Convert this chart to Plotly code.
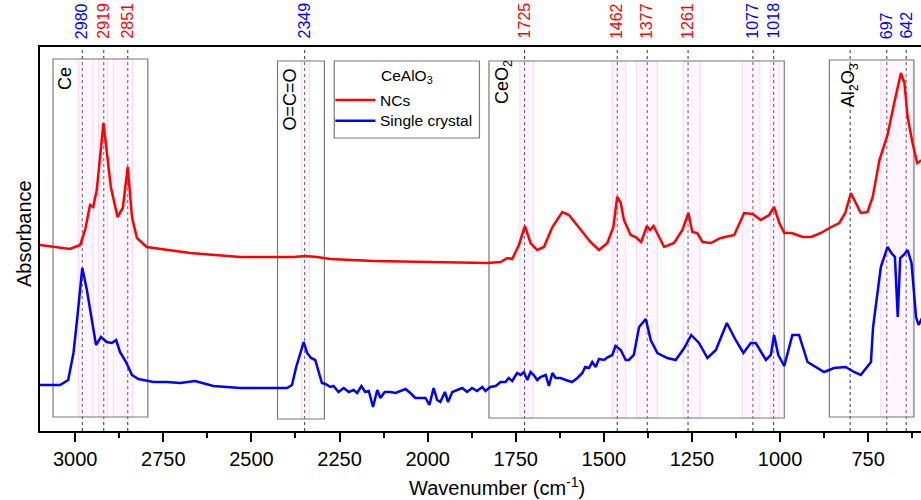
import plotly.graph_objects as go

# ---------------- data ----------------
nc_wn = [3100, 3060, 3015, 2986, 2972, 2958, 2949, 2939, 2920, 2911, 2899, 2880, 2865, 2851, 2839, 2825,
         2797, 2674, 2532, 2380, 2347, 2314, 2276, 2153, 1992, 1831, 1793, 1774, 1760, 1741, 1724, 1708,
         1689, 1670, 1646, 1618, 1599, 1571, 1538, 1514, 1490, 1473, 1462, 1452, 1443, 1424, 1410, 1394,
         1378, 1369, 1359, 1346, 1329, 1301, 1277, 1260, 1249, 1235, 1220, 1197, 1168, 1130, 1102, 1078,
         1055, 1031, 1017, 1002, 988, 967, 936, 912, 884, 860, 832, 815, 799, 785, 771, 752, 737, 718,
         695, 676, 666, 657, 647, 638, 624, 611, 597]
nc_abs = [1.86, 1.84, 1.82, 1.86, 2.01, 2.26, 2.24, 2.41, 3.08, 2.81, 2.44, 2.14, 2.23, 2.64, 2.14, 1.93,
          1.84, 1.78, 1.74, 1.74, 1.75, 1.74, 1.72, 1.70, 1.69, 1.68, 1.69, 1.73, 1.72, 1.86, 2.05, 1.88,
          1.81, 1.84, 2.04, 2.19, 2.16, 2.04, 1.89, 1.81, 1.88, 2.04, 2.34, 2.28, 2.11, 1.96, 1.94, 1.89,
          2.05, 2.01, 2.05, 1.96, 1.84, 1.88, 2.01, 2.18, 1.99, 1.98, 1.89, 1.88, 1.93, 1.96, 2.18, 2.17,
          2.11, 2.16, 2.24, 2.08, 1.98, 1.98, 1.94, 1.94, 1.98, 2.03, 2.08, 2.18, 2.38, 2.28, 2.18, 2.19, 2.34, 2.71,
          2.96, 3.28, 3.44, 3.58, 3.48, 3.14, 2.88, 2.68, 2.71]

sc_wn = [3100, 3043, 3020, 3005, 2994, 2980, 2967, 2953, 2941, 2927, 2911, 2896, 2884, 2873, 2856, 2839,
         2821, 2778, 2740, 2702, 2660, 2608, 2532, 2456, 2399, 2385, 2373, 2361, 2352, 2342, 2331, 2319,
         2300, 2290, 2276, 2267, 2253, 2238, 2224, 2210, 2200, 2188, 2177, 2167, 2155, 2143, 2134, 2122,
         2106, 2091, 2077, 2063, 2049, 2035, 2020, 2006, 1995, 1983, 1973, 1964, 1951, 1942, 1930, 1916,
         1902, 1888, 1874, 1860, 1845, 1836, 1822, 1807, 1793, 1779, 1770, 1760, 1746, 1736, 1727, 1717,
         1708, 1699, 1689, 1680, 1665, 1656, 1646, 1637, 1623, 1608, 1590, 1575, 1561, 1553, 1542, 1533,
         1523, 1514, 1500, 1488, 1476,
         1467, 1452, 1438, 1429, 1415, 1400, 1381, 1367, 1348, 1320, 1296, 1272, 1252, 1230, 1206,
         1182, 1151, 1126, 1104, 1083, 1069, 1040, 1026, 1017, 1005, 988, 965, 946, 922, 894, 875, 847,
         814, 790, 771, 742, 736, 714, 695, 684, 674, 666, 659, 649, 638, 627, 614, 607, 597]
sc_abs = [0.46, 0.46, 0.51, 0.78, 1.14, 1.63, 1.41, 1.11, 0.86, 0.94, 0.89, 0.88, 0.91, 0.79, 0.69, 0.56,
          0.52, 0.49, 0.49, 0.48, 0.50, 0.45, 0.43, 0.43, 0.43, 0.46, 0.64, 0.78, 0.89, 0.78, 0.73, 0.71,
          0.48, 0.47, 0.44, 0.45, 0.39, 0.43, 0.39, 0.41, 0.38, 0.45, 0.39, 0.40, 0.24, 0.41, 0.33, 0.39,
          0.39, 0.38, 0.40, 0.42, 0.38, 0.33, 0.33, 0.33, 0.26, 0.43, 0.31, 0.29, 0.39, 0.29, 0.39, 0.41,
          0.43, 0.39, 0.43, 0.40, 0.44, 0.40, 0.44, 0.45, 0.49, 0.49, 0.53, 0.50, 0.58, 0.56, 0.59, 0.51,
          0.59, 0.56, 0.51, 0.54, 0.56, 0.45, 0.58, 0.53, 0.53, 0.51, 0.49, 0.53, 0.58, 0.64, 0.63, 0.69,
          0.64, 0.72, 0.71, 0.74, 0.76,
          0.85, 0.81, 0.71, 0.71, 0.76, 1.04, 1.12, 0.91, 0.78, 0.73, 0.71, 0.83, 0.96, 0.88, 0.73,
          0.81, 1.08, 0.91, 0.78, 0.88, 0.88, 0.71, 0.76, 0.96, 0.76, 0.65, 0.96, 0.96, 0.69, 0.63, 0.59, 0.63,
          0.64, 0.59, 0.56, 0.69, 1.04, 1.64, 1.84, 1.78, 1.74, 1.14, 1.73, 1.76, 1.81, 1.68, 1.14, 1.06, 1.13]

# peak markers and label colours
peak_wn = [2980, 2919, 2851, 2349, 1725, 1462, 1377, 1261, 1077, 1018, 697, 642]
peak_color = ["blue", "red", "red", "blue", "red", "red", "red", "red", "blue", "blue", "blue", "blue"]
extra_line_wn = [801]

# assignment boxes
box_labels = ["Ce", "O=C=O", "CeO<sub>2</sub>", "Al<sub>2</sub>O<sub>3</sub>"]
box_left = [3063, 2426, 1826, 860]
box_right = [2794, 2293, 988, 620]
box_top = [3.72, 3.70, 3.70, 3.71]
box_bottom = [0.14, 0.12, 0.13, 0.14]
box_label_x = [3029, 2392, 1786, 802]
box_label_y = [3.52, 3.31, 3.49, 3.455]

# shaded bands (hi, lo) and the box they belong to
band_hi = [2991, 2934, 2892, 2358, 1738, 1476, 1407, 1275, 1107, 1028, 714]
band_lo = [2949, 2908, 2837, 2335, 1700, 1438, 1348, 1227, 1057, 1002, 622]
band_box = [0, 0, 0, 1, 2, 2, 2, 2, 2, 2, 3]

x_ticks = [3000, 2750, 2500, 2250, 2000, 1750, 1500, 1250, 1000, 750]
x_minor = [2875, 2625, 2375, 2125, 1875, 1625, 1375, 1125, 875, 625]

FONT = "Arial, 'Liberation Sans', sans-serif"

fig = go.Figure()
fig.add_trace(go.Scatter(x=nc_wn, y=nc_abs, mode="lines", name="NCs",
                         line=dict(color="#ff0000", width=2.5), showlegend=False))
fig.add_trace(go.Scatter(x=sc_wn, y=sc_abs, mode="lines", name="Single crystal",
                         line=dict(color="#0000ff", width=2.5), showlegend=False))

shapes = []
annotations = []

for hi, lo, b in zip(band_hi, band_lo, band_box):
    shapes.append(dict(type="rect", xref="x", yref="y", x0=hi, x1=lo,
                       y0=box_bottom[b], y1=box_top[b],
                       fillcolor="rgba(255,215,250,0.25)",
                       line=dict(color="rgba(245,180,240,0.5)", width=1), layer="below"))

for l, r, t, bt in zip(box_left, box_right, box_top, box_bottom):
    shapes.append(dict(type="rect", xref="x", yref="y", x0=l, x1=r, y0=bt, y1=t,
                       line=dict(color="#7a7a7a", width=1.2), fillcolor="rgba(0,0,0,0)", layer="below"))

for w in peak_wn + extra_line_wn:
    shapes.append(dict(type="line", xref="x", yref="paper", x0=w, x1=w, y0=0, y1=1,
                       line=dict(color="#333333", width=1, dash="3px,3px"), layer="below"))

for w, c in zip(peak_wn, peak_color):
    annotations.append(dict(x=w, y=1.016, xref="x", yref="paper", text=str(w), showarrow=False,
                            textangle=-90, xanchor="center", yanchor="bottom",
                            font=dict(family=FONT, size=16, color=c)))

for t, x, y in zip(box_labels, box_label_x, box_label_y):
    annotations.append(dict(x=x, y=y, xref="x", yref="y", text=t, showarrow=False,
                            textangle=-90, xanchor="center", yanchor="middle",
                            font=dict(family=FONT, size=18, color="black")))

# legend (drawn manually)
shapes.append(dict(type="rect", xref="x", yref="y", x0=2265, x1=1853, y0=2.93, y1=3.70,
                   line=dict(color="#7a7a7a", width=1.2), fillcolor="white"))
shapes.append(dict(type="line", xref="x", yref="y", x0=2262, x1=2148, y0=3.31, y1=3.31,
                   line=dict(color="#ff0000", width=2.5)))
shapes.append(dict(type="line", xref="x", yref="y", x0=2262, x1=2148, y0=3.103, y1=3.103,
                   line=dict(color="#0000ff", width=2.5)))
annotations.append(dict(x=2058, y=3.55, xref="x", yref="y", text="CeAlO<sub>3</sub>", showarrow=False,
                        xanchor="center", yanchor="middle", font=dict(family=FONT, size=15.5, color="black")))
annotations.append(dict(x=2140, y=3.31, xref="x", yref="y", text="NCs", showarrow=False,
                        xanchor="left", yanchor="middle", font=dict(family=FONT, size=15.5, color="black")))
annotations.append(dict(x=2140, y=3.103, xref="x", yref="y", text="Single crystal", showarrow=False,
                        xanchor="left", yanchor="middle", font=dict(family=FONT, size=15.5, color="black")))

# axis titles
annotations.append(dict(x=(497 - 40) / 881, y=(431 - 486) / 384, xref="paper", yref="paper",
                        text="Wavenumber (cm<sup>-1</sup>)",
                        showarrow=False, xanchor="center", yanchor="middle",
                        font=dict(family=FONT, size=20, color="black")))
annotations.append(dict(x=(24 - 40) / 881, y=(431 - 234) / 384, xref="paper", yref="paper",
                        text="Absorbance", showarrow=False, textangle=-90,
                        xanchor="center", yanchor="middle",
                        font=dict(family=FONT, size=20, color="black")))

fig.update_layout(
    width=921, height=500,
    margin=dict(l=40, r=0, t=47, b=69),
    paper_bgcolor="white", plot_bgcolor="white",
    shapes=shapes, annotations=annotations,
    font=dict(family=FONT, color="black"),
    hovermode=False,
    xaxis=dict(range=[3100, 600], tickvals=x_ticks, ticktext=[str(v) for v in x_ticks],
               ticks="outside", ticklen=9, tickwidth=2, tickcolor="black",
               showline=True, linewidth=2, linecolor="black", mirror=True,
               showgrid=False, zeroline=False,
               tickfont=dict(family=FONT, size=20, color="black"),
               minor=dict(tickvals=x_minor, ticks="outside", ticklen=5, tickwidth=2,
                          tickcolor="black", showgrid=False)),
    yaxis=dict(range=[0, 3.84], showline=True, linewidth=2, linecolor="black", mirror=False,
               showticklabels=False, ticks="", showgrid=False, zeroline=False),
)

fig.write_html("out.html", config={"displayModeBar": False},
               post_script="document.body.style.margin='0';document.body.style.overflow='hidden';")
